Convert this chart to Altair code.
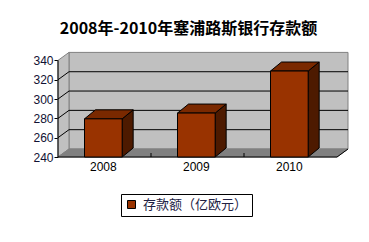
import altair as alt
import pandas as pd

# ---- data ----
years = ["2008", "2009", "2010"]
values = [279.5, 285.5, 329.0]
y_ticks = [240, 260, 280, 300, 320, 340]
series_name = "存款额（亿欧元）"
title_text = "2008年-2010年塞浦路斯银行存款额"

# ---- geometry / style constants ----
PX_X = 93.0          # px per category unit
PX_Y = 0.966         # px per value unit
Y0 = 240
YTOP = 340
WALL_DX = 11 / PX_X
WALL_DY = 8 / PX_Y
BAR_DX = 11 / PX_X
BAR_DY = 9 / PX_Y
BAR_L = 0.285
BAR_R = 0.69
N = len(years)
PLOT_W = 289
PLOT_H = 105
Y_DOMAIN = [Y0, Y0 + PLOT_H / PX_Y]
X_DOMAIN = [0, PLOT_W / PX_X]

CJK = "Noto Sans CJK SC"
LAT = "Liberation Sans"

xsc = alt.Scale(domain=X_DOMAIN, nice=False, zero=False)
ysc = alt.Scale(domain=Y_DOMAIN, nice=False, zero=False)
yaxis = alt.Axis(values=y_ticks, title=None, domain=False, grid=False,
                 tickColor="black", tickSize=4, labelFontSize=12,
                 labelFont=LAT, labelColor="#111133", labelPadding=1)


def X(f):
    return alt.X(f, type="quantitative", scale=xsc, axis=None)


def Y(f):
    return alt.Y(f, type="quantitative", scale=ysc, axis=yaxis)


# back wall
back = pd.DataFrame({"x": [WALL_DX], "x2": [N + WALL_DX],
                     "y": [Y0 + WALL_DY], "y2": [YTOP + WALL_DY]})
back_l = alt.Chart(back).mark_rect(fill="#c0c0c0", stroke="#808080", strokeWidth=1).encode(
    x=X("x"), x2="x2", y=Y("y"), y2="y2")

# left wall
left = pd.DataFrame({"x": [0, WALL_DX], "y": [Y0, Y0 + WALL_DY], "y2": [YTOP, YTOP + WALL_DY]})
left_l = alt.Chart(left).mark_area(orient="vertical", fill="#c0c0c0", stroke="#808080",
                                   strokeWidth=1).encode(x=X("x"), y=Y("y"), y2="y2")

# floor
floor = pd.DataFrame({"y": [Y0, Y0 + WALL_DY], "x": [0, WALL_DX], "x2": [N, N + WALL_DX]})
floor_l = alt.Chart(floor).mark_area(orient="horizontal", fill="#808080", stroke="#808080",
                                     strokeWidth=1).encode(y=Y("y"), x=X("x"), x2="x2")

# grid lines on back wall and slants on left wall
inner = [v for v in y_ticks if Y0 < v < YTOP]
grid = pd.DataFrame({"x": [WALL_DX] * len(inner), "x2": [N + WALL_DX] * len(inner),
                     "y": [v + WALL_DY for v in inner]})
grid_l = alt.Chart(grid).mark_rule(color="black", strokeWidth=1).encode(
    x=X("x"), x2="x2", y=Y("y"))
slant = pd.DataFrame({"x": [0] * len(inner), "x2": [WALL_DX] * len(inner),
                      "y": inner, "y2": [v + WALL_DY for v in inner]})
slant_l = alt.Chart(slant).mark_rule(color="black", strokeWidth=1).encode(
    x=X("x"), x2="x2", y=Y("y"), y2="y2")

# axis lines
axes = pd.DataFrame({"x": [0, 0, N], "x2": [0, N, N + WALL_DX],
                     "y": [Y0, Y0, Y0], "y2": [YTOP, Y0, Y0 + WALL_DY]})
axes_l = alt.Chart(axes).mark_rule(color="black", strokeWidth=1).encode(
    x=X("x"), x2="x2", y=Y("y"), y2="y2")
xt = pd.DataFrame({"x": list(range(1, N)), "y": [Y0] * (N - 1), "y2": [Y0 + 4 / PX_Y] * (N - 1)})
xt_l = alt.Chart(xt).mark_rule(color="black", strokeWidth=1).encode(
    x=X("x"), y=Y("y"), y2="y2")

# bars
front = pd.DataFrame({"year": years, "series": [series_name] * N,
                      "x": [i + BAR_L for i in range(N)], "x2": [i + BAR_R for i in range(N)],
                      "y": [Y0] * N, "y2": values,
                      "xc": [i + (BAR_L + BAR_R) / 2 for i in range(N)]})
top_rows, side_rows = [], []
for i, (yr, v) in enumerate(zip(years, values)):
    top_rows.append({"year": yr, "y": v, "x": i + BAR_L, "x2": i + BAR_R})
    top_rows.append({"year": yr, "y": v + BAR_DY, "x": i + BAR_L + BAR_DX, "x2": i + BAR_R + BAR_DX})
    side_rows.append({"year": yr, "x": i + BAR_R, "y": Y0, "y2": v})
    side_rows.append({"year": yr, "x": i + BAR_R + BAR_DX, "y": Y0 + BAR_DY, "y2": v + BAR_DY})
top = pd.DataFrame(top_rows)
side = pd.DataFrame(side_rows)

side_l = alt.Chart(side).mark_area(orient="vertical", fill="#4d1a00", stroke="black",
                                   strokeWidth=1).encode(x=X("x"), y=Y("y"), y2="y2", detail="year:N")
top_l = alt.Chart(top).mark_area(orient="horizontal", fill="#7a2900", stroke="black",
                                 strokeWidth=1).encode(y=Y("y"), x=X("x"), x2="x2", detail="year:N")
front_l = alt.Chart(front).mark_rect(stroke="black", strokeWidth=1, opacity=1).encode(
    x=X("x"), x2="x2", y=Y("y"), y2="y2",
    color=alt.Color("series:N", scale=alt.Scale(domain=[series_name], range=["#993300"]),
                    legend=alt.Legend(title=None, orient="none", legendX=63, legendY=142,
                                      direction="horizontal", symbolType="square",
                                      symbolSize=64, symbolStrokeColor="black",
                                      symbolStrokeWidth=1, symbolOpacity=1,
                                      labelFont=CJK, labelFontSize=13, labelColor="#222244",
                                      labelOffset=5, strokeColor="black", padding=4,
                                      fillColor="white")))
labels_l = alt.Chart(front).mark_text(baseline="top", dy=5, fontSize=12, font=LAT,
                                      color="black").encode(x=X("xc"), y=Y("y"), text="year:N")

chart = alt.layer(back_l, left_l, floor_l, grid_l, slant_l, axes_l, xt_l,
                  side_l, top_l, front_l, labels_l).properties(
    width=PLOT_W, height=PLOT_H,
    autosize=alt.AutoSizeParams(type="none"),
    padding={"left": 58, "top": 52, "right": 369 - 58 - PLOT_W, "bottom": 242 - 52 - PLOT_H},
    background="white",
    title=alt.TitleParams(title_text, font=CJK, fontSize=16, fontWeight="bold",
                          anchor="middle", dx=-14, dy=20, offset=17, baseline="bottom",
                          color="black"),
).configure_view(stroke=None)

chart.save("out.html", embed_options={"renderer": "svg", "actions": False})
